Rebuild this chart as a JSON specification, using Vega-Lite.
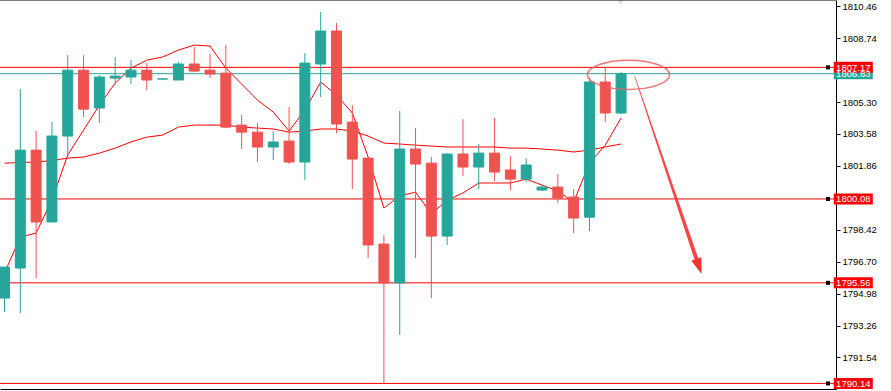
{
  "$schema": "https://vega.github.io/schema/vega-lite/v6.json",
  "width": 836,
  "height": 389,
  "autosize": {"type": "none"},
  "padding": {"left": 0, "top": 0, "right": 55, "bottom": 2},
  "background": "#ffffff",
  "config": {
    "view": {"stroke": null},
    "axis": {"grid": false, "domainColor": "#000000", "tickColor": "#000000", "labelColor": "#000000", "labelFont": "Liberation Sans", "labelFontSize": 9.5}
  },
  "datasets": {
    "candles": [
      {"k":0,"o":1794.74,"c":1796.41,"h":1796.41,"l":1793.99,"m1":1796.09,"m2":1802.01},
      {"k":1,"o":1796.36,"c":1802.71,"h":1806.00,"l":1793.93,"m1":1798.03,"m2":1802.04},
      {"k":2,"o":1802.71,"c":1798.84,"h":1803.74,"l":1795.82,"m1":1798.24,"m2":1802.07},
      {"k":3,"o":1798.84,"c":1803.47,"h":1804.22,"l":1798.84,"m1":1800.02,"m2":1802.15},
      {"k":4,"o":1803.47,"c":1807.02,"h":1807.83,"l":1802.34,"m1":1802.45,"m2":1802.28},
      {"k":5,"o":1807.02,"c":1804.92,"h":1807.83,"l":1804.49,"m1":1803.79,"m2":1802.34},
      {"k":6,"o":1804.98,"c":1806.65,"h":1806.76,"l":1804.17,"m1":1805.14,"m2":1802.55},
      {"k":7,"o":1806.59,"c":1806.70,"h":1807.73,"l":1806.27,"m1":1806.32,"m2":1802.82},
      {"k":8,"o":1806.65,"c":1807.02,"h":1807.56,"l":1806.27,"m1":1807.13,"m2":1803.15},
      {"k":9,"o":1807.02,"c":1806.49,"h":1807.40,"l":1805.95,"m1":1807.56,"m2":1803.41},
      {"k":10,"o":1806.54,"c":1806.55,"h":1806.55,"l":1806.54,"m1":1807.73,"m2":1803.52},
      {"k":11,"o":1806.49,"c":1807.35,"h":1807.46,"l":1806.49,"m1":1808.10,"m2":1803.95},
      {"k":12,"o":1807.35,"c":1806.97,"h":1808.26,"l":1806.92,"m1":1808.37,"m2":1804.06},
      {"k":13,"o":1807.02,"c":1806.81,"h":1807.89,"l":1806.59,"m1":1808.32,"m2":1804.06},
      {"k":14,"o":1806.86,"c":1803.95,"h":1808.37,"l":1803.90,"m1":1807.13,"m2":1804.06},
      {"k":15,"o":1804.06,"c":1803.68,"h":1804.60,"l":1802.77,"m1":1806.27,"m2":1803.95},
      {"k":16,"o":1803.68,"c":1802.88,"h":1804.17,"l":1802.07,"m1":1805.41,"m2":1803.90},
      {"k":17,"o":1802.88,"c":1803.15,"h":1803.74,"l":1802.18,"m1":1804.76,"m2":1803.85},
      {"k":18,"o":1803.20,"c":1802.07,"h":1805.03,"l":1801.96,"m1":1803.74,"m2":1803.68},
      {"k":19,"o":1802.07,"c":1807.40,"h":1807.94,"l":1801.10,"m1":1804.87,"m2":1803.74},
      {"k":20,"o":1807.35,"c":1809.13,"h":1810.15,"l":1805.57,"m1":1806.38,"m2":1803.85},
      {"k":21,"o":1809.13,"c":1804.12,"h":1809.56,"l":1803.63,"m1":1805.68,"m2":1803.85},
      {"k":22,"o":1804.22,"c":1802.23,"h":1805.14,"l":1800.61,"m1":1804.71,"m2":1803.74},
      {"k":23,"o":1802.28,"c":1797.60,"h":1802.28,"l":1796.90,"m1":1802.34,"m2":1803.47},
      {"k":24,"o":1797.65,"c":1795.55,"h":1798.13,"l":1790.11,"m1":1799.59,"m2":1803.09},
      {"k":25,"o":1795.55,"c":1802.77,"h":1804.82,"l":1792.75,"m1":1800.24,"m2":1803.04},
      {"k":26,"o":1802.77,"c":1801.96,"h":1803.90,"l":1796.90,"m1":1800.45,"m2":1802.98},
      {"k":27,"o":1802.01,"c":1798.08,"h":1802.34,"l":1794.74,"m1":1799.27,"m2":1802.93},
      {"k":28,"o":1798.08,"c":1802.50,"h":1802.55,"l":1797.60,"m1":1800.02,"m2":1802.88},
      {"k":29,"o":1802.50,"c":1801.80,"h":1804.38,"l":1801.31,"m1":1800.40,"m2":1802.88},
      {"k":30,"o":1801.80,"c":1802.55,"h":1803.04,"l":1800.61,"m1":1800.94,"m2":1802.88},
      {"k":31,"o":1802.55,"c":1801.53,"h":1804.44,"l":1801.04,"m1":1800.94,"m2":1802.88},
      {"k":32,"o":1801.64,"c":1801.15,"h":1802.39,"l":1800.56,"m1":1800.94,"m2":1802.82},
      {"k":33,"o":1801.15,"c":1801.91,"h":1802.28,"l":1800.99,"m1":1801.15,"m2":1802.82},
      {"k":34,"o":1800.56,"c":1800.72,"h":1800.83,"l":1800.51,"m1":1800.83,"m2":1802.77},
      {"k":35,"o":1800.72,"c":1800.13,"h":1801.42,"l":1799.86,"m1":1800.51,"m2":1802.71},
      {"k":36,"o":1800.18,"c":1799.05,"h":1800.61,"l":1798.24,"m1":1799.91,"m2":1802.61},
      {"k":37,"o":1799.10,"c":1806.38,"h":1806.59,"l":1798.35,"m1":1802.01,"m2":1802.71},
      {"k":38,"o":1806.38,"c":1804.71,"h":1807.13,"l":1804.22,"m1":1802.98,"m2":1802.88},
      {"k":39,"o":1804.71,"c":1806.83,"h":1806.92,"l":1804.65,"m1":1804.44,"m2":1803.04}
    ],
    "levels": [
      {"p":1806.83,"t":"price"},
      {"p":1807.17,"t":"level"},
      {"p":1800.08,"t":"level"},
      {"p":1795.56,"t":"level"},
      {"p":1790.14,"t":"level"}
    ],
    "arrow": [
      {"k":39.86,"p":1806.70,"s":0},
      {"k":43.77,"p":1796.84,"s":1}
    ],
    "arrowhead": [{"k":44.09,"p":1796.03}],
    "ellipse": [{"k":39.47,"p":1806.77}],
    "marker": [{"k":38.97,"p":1810.70}]
  },
  "layer": [
    {
      "data": {"name": "levels"},
      "mark": {"type": "rule", "strokeWidth": 1, "clip": true},
      "encoding": {
        "y": {"field": "p", "type": "quantitative", "title": null, "scale": {"domain": [1789.84, 1810.8], "nice": false, "zero": false},
          "axis": {"orient": "right", "values": [1810.46, 1808.74, 1805.30, 1803.58, 1801.86, 1798.42, 1796.70, 1794.98, 1793.26, 1791.54], "format": ".2f", "tickSize": 4, "labelPadding": 2, "domainColor": "#000000"}},
        "color": {"field": "t", "type": "nominal", "scale": {"domain": ["level", "price"], "range": ["#ff0000", "#26a69a"]}, "legend": null}
      }
    },
    {
      "data": {"name": "candles"},
      "mark": {"type": "line", "color": "#ff0000", "strokeWidth": 1, "clip": true},
      "encoding": {
        "x": {"field": "k", "type": "quantitative", "title": null, "scale": {"domain": [0.03125, 52.28], "nice": false, "zero": false},
          "axis": {"orient": "bottom", "labels": false, "ticks": false, "domainColor": "#000000"}},
        "y": {"field": "m2", "type": "quantitative", "title": null, "scale": {"domain": [1789.84, 1810.8], "nice": false, "zero": false}}
      }
    },
    {
      "data": {"name": "candles"},
      "mark": {"type": "line", "color": "#ff0000", "strokeWidth": 1, "clip": true},
      "encoding": {
        "x": {"field": "k", "type": "quantitative", "title": null, "scale": {"domain": [0.03125, 52.28], "nice": false, "zero": false}},
        "y": {"field": "m1", "type": "quantitative", "title": null, "scale": {"domain": [1789.84, 1810.8], "nice": false, "zero": false}}
      }
    },
    {
      "data": {"name": "candles"},
      "mark": {"type": "rule", "strokeWidth": 1, "clip": true},
      "encoding": {
        "x": {"field": "k", "type": "quantitative", "title": null, "scale": {"domain": [0.03125, 52.28], "nice": false, "zero": false}},
        "y": {"field": "h", "type": "quantitative", "title": null, "scale": {"domain": [1789.84, 1810.8], "nice": false, "zero": false}},
        "y2": {"field": "l"},
        "color": {"condition": {"test": "datum.c >= datum.o", "value": "#26a69a"}, "value": "#ef5350"}
      }
    },
    {
      "data": {"name": "candles"},
      "mark": {"type": "bar", "size": 10, "strokeWidth": 1, "clip": true},
      "encoding": {
        "x": {"field": "k", "type": "quantitative", "title": null, "scale": {"domain": [0.03125, 52.28], "nice": false, "zero": false}},
        "y": {"field": "o", "type": "quantitative", "title": null, "scale": {"domain": [1789.84, 1810.8], "nice": false, "zero": false}},
        "y2": {"field": "c"},
        "color": {"condition": {"test": "datum.c >= datum.o", "value": "#26a69a"}, "value": "#ef5350"},
        "stroke": {"condition": {"test": "datum.c >= datum.o", "value": "#26a69a"}, "value": "#ef5350"}
      }
    },
    {
      "data": {"name": "ellipse"},
      "mark": {"type": "point", "shape": "M -1 0 A 1 0.357 0 1 0 1 0 A 1 0.357 0 1 0 -1 0 Z", "size": 6724, "filled": false, "stroke": "#f06060", "strokeWidth": 1.5, "opacity": 0.85, "clip": false},
      "encoding": {
        "x": {"field": "k", "type": "quantitative", "title": null, "scale": {"domain": [0.03125, 52.28], "nice": false, "zero": false}},
        "y": {"field": "p", "type": "quantitative", "title": null, "scale": {"domain": [1789.84, 1810.8], "nice": false, "zero": false}}
      }
    },
    {
      "data": {"name": "arrow"},
      "mark": {"type": "trail", "color": "#ff3030", "opacity": 0.9},
      "encoding": {
        "x": {"field": "k", "type": "quantitative", "title": null, "scale": {"domain": [0.03125, 52.28], "nice": false, "zero": false}},
        "y": {"field": "p", "type": "quantitative", "title": null, "scale": {"domain": [1789.84, 1810.8], "nice": false, "zero": false}},
        "size": {"field": "s", "type": "quantitative", "scale": {"domain": [0, 1], "range": [0.6, 4]}, "legend": null},
        "order": {"field": "s"}
      }
    },
    {
      "data": {"name": "arrowhead"},
      "mark": {"type": "point", "shape": "M 0 0 L -0.33 -1 L 0.33 -1 Z", "size": 1024, "filled": true, "color": "#ff3030", "opacity": 1, "angle": 341},
      "encoding": {
        "x": {"field": "k", "type": "quantitative", "title": null, "scale": {"domain": [0.03125, 52.28], "nice": false, "zero": false}},
        "y": {"field": "p", "type": "quantitative", "title": null, "scale": {"domain": [1789.84, 1810.8], "nice": false, "zero": false}}
      }
    },
    {
      "data": {"name": "marker"},
      "mark": {"type": "point", "shape": "triangle-down", "size": 60, "filled": true, "color": "#e0e0e0", "opacity": 1},
      "encoding": {
        "x": {"field": "k", "type": "quantitative", "title": null, "scale": {"domain": [0.03125, 52.28], "nice": false, "zero": false}},
        "y": {"field": "p", "type": "quantitative", "title": null, "scale": {"domain": [1789.84, 1810.8], "nice": false, "zero": false}}
      }
    },
    {
      "data": {"values": [{"p": 1810.8}]},
      "mark": {"type": "rule", "color": "#000000", "strokeWidth": 1},
      "encoding": {
        "y": {"field": "p", "type": "quantitative", "title": null, "scale": {"domain": [1789.84, 1810.8], "nice": false, "zero": false}}
      }
    },
    {
      "data": {"name": "levels"},
      "transform": [{"filter": "datum.t == 'level'"}],
      "mark": {"type": "point", "shape": "square", "size": 16, "filled": true, "color": "#000000", "opacity": 1, "clip": false},
      "encoding": {
        "x": {"datum": 52.09, "type": "quantitative", "scale": {"domain": [0.03125, 52.28], "nice": false, "zero": false}},
        "y": {"field": "p", "type": "quantitative", "title": null, "scale": {"domain": [1789.84, 1810.8], "nice": false, "zero": false}}
      }
    },
    {
      "data": {"name": "levels"},
      "mark": {"type": "point", "shape": "M -1 -0.282 L 1 -0.282 L 1 0.282 L -1 0.282 Z", "size": 1521, "filled": true, "opacity": 1, "clip": false},
      "encoding": {
        "x": {"datum": 53.69, "type": "quantitative", "scale": {"domain": [0.03125, 52.28], "nice": false, "zero": false}},
        "y": {"field": "p", "type": "quantitative", "title": null, "scale": {"domain": [1789.84, 1810.8], "nice": false, "zero": false}},
        "color": {"field": "t", "type": "nominal", "scale": {"domain": ["level", "price"], "range": ["#ff0000", "#26a69a"]}, "legend": null}
      }
    },
    {
      "data": {"name": "levels"},
      "mark": {"type": "text", "color": "#ffffff", "font": "Liberation Sans", "fontSize": 9.5, "align": "center", "baseline": "middle", "dy": 0.5, "clip": false},
      "encoding": {
        "x": {"datum": 53.69, "type": "quantitative", "scale": {"domain": [0.03125, 52.28], "nice": false, "zero": false}},
        "y": {"field": "p", "type": "quantitative", "title": null, "scale": {"domain": [1789.84, 1810.8], "nice": false, "zero": false}},
        "text": {"field": "p", "type": "quantitative", "format": ".2f"}
      }
    }
  ]
}
